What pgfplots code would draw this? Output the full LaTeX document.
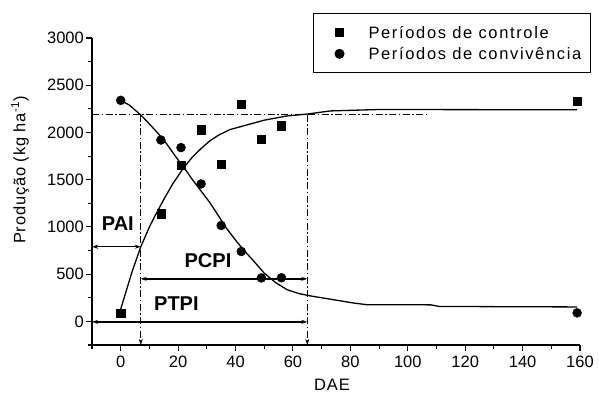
\documentclass[border=0pt]{standalone}
\usepackage{pgfplots}
\pgfplotsset{compat=1.18}
\usepackage{fontspec}
\setmainfont{Liberation Sans}
\usetikzlibrary{arrows.meta}
\begin{document}
\begin{tikzpicture}
\begin{axis}[
  scale only axis, width=488pt, height=307pt,
  xmin=-10, xmax=160, ymin=-250, ymax=3000,
  axis x line*=bottom, axis y line*=left,
  axis line style={line width=1.3pt},
  xtick={0,20,...,160}, minor xtick={-10,10,30,50,70,90,110,130,150},
  ytick={0,500,...,3000}, minor ytick={-250,250,750,1250,1750,2250,2750},
  tick align=outside, major tick length=6pt, minor tick length=3.5pt,
  every tick/.style={black, line width=1.1pt},
  /pgf/number format/assume math mode=true,
  /pgf/number format/1000 sep={},
  ticklabel style={font=\fontsize{16.5}{19}\selectfont},
  yticklabel style={inner xsep=2pt},
  xticklabel style={yshift=-1pt},
  xlabel={DAE},
  ylabel={Produção (kg ha\textsuperscript{-1})},
  label style={font=\fontsize{16.5}{19}\selectfont\addfontfeature{LetterSpace=5}},
  xlabel style={at={(axis description cs:0.4918,-0.131)}, anchor=center},
  ylabel style={at={(axis description cs:-0.1475,0.57)}, anchor=center},
  legend style={at={(axis description cs:0.4529,1.0824)}, anchor=north west,
    draw=black, line width=1pt, inner xsep=9pt, inner ysep=10pt,
    font=\fontsize{16.5}{20}\selectfont\addfontfeature{LetterSpace=10},
    nodes={inner sep=0pt, text height=15pt, text depth=3pt}, row sep=3.6pt,
    column sep=19pt},
  legend cell align=left,
  legend image code/.code={\path[draw=none,fill=none] (0pt,-2pt) rectangle (27pt,2pt); \draw[mark repeat=2,mark phase=2,#1] plot coordinates {(0pt,0pt) (17pt,0pt) (27pt,0pt)};},
  clip=false,
]
\coordinate (SW) at (rel axis cs:0,0);
% data
\addplot[only marks, mark=square*, mark size=4.15pt, black] coordinates {
 (0,85) (14,1140) (21,1650) (28,2030) (35,1665) (42,2300) (49,1925) (56,2070) (159,2330)};
\addlegendentry{Períodos de controle}
\addplot[only marks, mark=*, mark size=4.5pt, black] coordinates {
 (0,2340) (14,1920) (21,1840) (28,1455) (35,1015) (42,740) (49,460) (56,462) (159,90)};
\addlegendentry{Períodos de convivência}
% fitted curves
\addplot[black, line width=1.3pt, forget plot] coordinates {
 (0,130) (2,330) (4,530) (7,790) (10,1000) (12,1120) (15,1290) (18,1450) (22,1630)
 (25,1740) (28,1830) (31,1910) (34,1970) (38,2030) (44,2080) (50,2130) (58,2175)
 (65,2195) (73,2228) (90,2243) (159,2240)};
\addplot[black, line width=1.3pt, forget plot] coordinates {
 (0,2340) (3,2290) (7,2185) (10,2090) (13,1990) (16,1880) (19,1750) (22,1630)
 (25,1500) (28,1380) (31,1260) (34,1120) (37,980) (40,860) (43,750) (46,650)
 (50,510) (54,410) (58,335) (62,295) (66,270) (71,245) (76,220) (81,195)
 (86,176) (108,175) (111,158) (159,153)};
% reference lines
\draw[line width=1.3pt, dash pattern=on 7pt off 2.5pt on 1.5pt off 2.5pt]
  (axis cs:-10,2187) -- (axis cs:107,2187);
\draw[line width=1.3pt, dash pattern=on 7pt off 2.5pt on 1.5pt off 2.5pt, -{Stealth[length=6pt,width=4pt]}]
  (axis cs:7,2187) -- (axis cs:7,-250);
\draw[line width=1.3pt, dash pattern=on 7pt off 2.5pt on 1.5pt off 2.5pt, -{Stealth[length=6pt,width=4pt]}]
  (axis cs:65,2187) -- (axis cs:65,-250);
% period arrows
\draw[line width=1.3pt, {Stealth[length=6pt,width=4pt]}-{Stealth[length=6pt,width=4pt]}]
  (axis cs:-10,790) -- (axis cs:7,790);
\draw[line width=1.3pt, {Stealth[length=6pt,width=4pt]}-{Stealth[length=6pt,width=4pt]}]
  (axis cs:7,450) -- (axis cs:65,450);
\draw[line width=1.3pt, {Stealth[length=6pt,width=4pt]}-{Stealth[length=6pt,width=4pt]}]
  (axis cs:-10,-5) -- (axis cs:65,-5);
\node[font=\fontsize{20}{24}\selectfont\bfseries] at (axis cs:-1,1034) {PAI};
\node[font=\fontsize{20}{24}\selectfont\bfseries] at (axis cs:30.4,639) {PCPI};
\node[font=\fontsize{20}{24}\selectfont\bfseries] at (axis cs:19.4,192) {PTPI};
\end{axis}
\pgfresetboundingbox
\path (SW) ++(-92pt,-49pt) rectangle ++(599pt,394pt);
\end{tikzpicture}
\end{document}
